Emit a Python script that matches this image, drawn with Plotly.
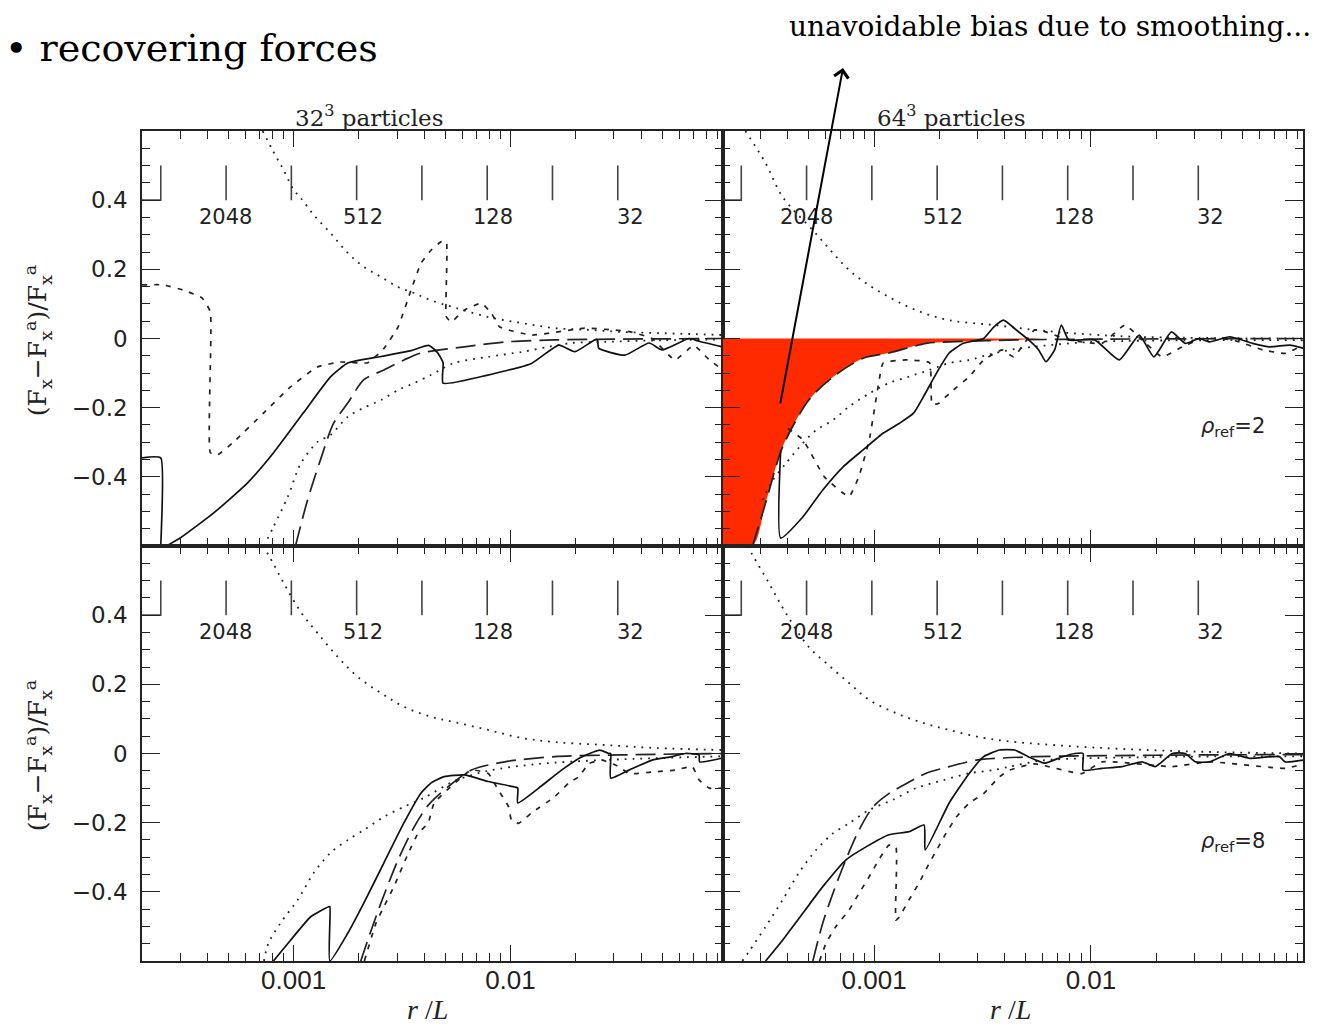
import math
import plotly.graph_objects as go
from plotly.subplots import make_subplots

# ---------------- axis / reference values ----------------
X_MIN, X_MAX = 2.0e-4, 0.095
Y_MIN, Y_MAX = -0.6, 0.6
x_major = [0.001, 0.01]
x_major_text = ["0.001", "0.01"]
x_minor = [m * 10.0 ** e for e in (-4, -3, -2) for m in range(2, 10)]
y_major = [-0.4, -0.2, 0.0, 0.2, 0.4]
y_major_text = ["\u22120.4", "\u22120.2", "0", "0.2", "0.4"]

neighbour_counts = [4096, 2048, 1024, 512, 256, 128, 64, 32]
labelled_counts = [2048, 512, 128, 32]
count_bar_low, count_bar_high, count_label_y = 0.4, 0.5, 0.35

# ---------------- top-left: 32^3, rho_ref = 2 ----------------
tl_solid_x = [2.0e-4, 2.44e-4, 2.44e-4, 2.61e-4, 3.0e-4, 4.27e-4, 6.12e-4, 8.07e-4, 1.11e-3, 1.48e-3, 1.78e-3,
              2.53e-3, 3.48e-3, 4.2e-3, 4.6e-3, 4.89e-3, 4.89e-3, 7.35e-3, 0.0125, 0.0167, 0.0198, 0.0245,
              0.0252, 0.0255, 0.0337, 0.0436, 0.05, 0.0667, 0.074, 0.095]
tl_solid_y = [-0.345, -0.345, -0.65, -0.6, -0.577, -0.505, -0.418, -0.331, -0.215, -0.111, -0.071,
              -0.052, -0.035, -0.02, -0.04, -0.07, -0.129, -0.11, -0.072, -0.019, -0.038, -0.004,
              -0.004, -0.028, -0.048, -0.013, -0.033, 0.0, -0.008, -0.024]
tl_long_x = [1.02e-3, 1.16e-3, 1.33e-3, 1.53e-3, 1.78e-3, 2.11e-3, 2.61e-3, 3.23e-3, 3.87e-3, 6.12e-3, 9.4e-3,
             0.016, 0.03, 0.095]
tl_long_y = [-0.6, -0.467, -0.351, -0.245, -0.186, -0.119, -0.091, -0.062, -0.042, -0.024, -0.01,
             -0.004, -0.002, 0.0]
tl_short_x = [2.0e-4, 2.5e-4, 3.1e-4, 3.79e-4, 4.13e-4, 4.13e-4, 4.45e-4, 5.27e-4, 7.26e-4, 9.68e-4, 1.29e-3,
              1.65e-3, 2.2e-3, 2.6e-3, 3.03e-3, 3.48e-3, 3.87e-3, 4.31e-3, 4.8e-3, 5.06e-3, 5.06e-3, 5.33e-3,
              6.12e-3, 7.35e-3, 8.17e-3, 8.9e-3, 0.0125, 0.022, 0.0294, 0.0352, 0.045, 0.0574, 0.07, 0.0826, 0.095]
tl_short_y = [0.155, 0.155, 0.14, 0.117, 0.077, -0.33, -0.337, -0.3, -0.216, -0.14, -0.082,
              -0.068, -0.07, -0.03, 0.033, 0.14, 0.218, 0.256, 0.28, 0.28, 0.063, 0.048,
              0.082, 0.102, 0.073, 0.034, 0.01, 0.03, 0.025, 0.02, 0.0, -0.062, -0.02, -0.062, -0.09]
tl_dotpos_x = [7.2e-4, 8.07e-4, 9.0e-4, 1.0e-3, 1.08e-3, 1.24e-3, 1.48e-3, 1.78e-3, 2.11e-3, 2.53e-3, 3.03e-3,
               3.6e-3, 4.31e-3, 5.5e-3, 7.9e-3, 0.01125, 0.016, 0.023, 0.0327, 0.0465, 0.0667, 0.095]
tl_dotpos_y = [0.6, 0.54, 0.487, 0.43, 0.406, 0.357, 0.305, 0.247, 0.207, 0.178, 0.149,
               0.131, 0.11, 0.09, 0.062, 0.045, 0.03, 0.025, 0.019, 0.016, 0.013, 0.01]
tl_dotneg_x = [7.3e-4, 8.07e-4, 9.4e-4, 1.08e-3, 1.29e-3, 1.48e-3, 1.78e-3, 2.11e-3, 2.53e-3, 3.03e-3, 3.6e-3,
               4.31e-3, 5.5e-3, 7.9e-3, 0.01125, 0.015, 0.0191, 0.0272, 0.05, 0.095]
tl_dotneg_y = [-0.6, -0.545, -0.458, -0.361, -0.299, -0.279, -0.226, -0.2, -0.178, -0.149, -0.129,
               -0.105, -0.071, -0.053, -0.039, -0.024, -0.013, -0.01, -0.005, -0.003]

# ---------------- top-right: 64^3, rho_ref = 2 ----------------
tr_long_x = [2.75e-4, 3.16e-4, 3.79e-4, 5.0e-4, 6.46e-4, 8.9e-4, 1.17e-3, 1.74e-3, 2.22e-3, 4.54e-3, 0.01, 0.095]
tr_long_y = [-0.6, -0.476, -0.313, -0.178, -0.111, -0.057, -0.042, -0.014, -0.01, -0.004, -0.002, 0.0]
bias_end_x = 5.9e-3
tr_solid_x = [3.71e-4, 3.71e-4, 4.69e-4, 5.8e-4, 7.2e-4, 8.9e-4, 1.1e-3, 1.31e-3, 1.52e-3, 1.69e-3, 1.94e-3,
              2.22e-3, 2.58e-3, 3.2e-3, 3.56e-3, 3.95e-3, 4.54e-3, 5.16e-3, 5.74e-3, 6.2e-3, 6.8e-3, 7.3e-3,
              7.9e-3, 0.0104, 0.0135, 0.0167, 0.0195, 0.0235, 0.0272, 0.0316, 0.0352, 0.0436, 0.0556,
              0.0667, 0.0826, 0.095]
tr_solid_y = [-0.322, -0.577, -0.516, -0.438, -0.371, -0.322, -0.274, -0.245, -0.216, -0.168, -0.1,
              -0.042, -0.014, 0.0, 0.033, 0.053, 0.024, -0.004, -0.033, -0.067, -0.033, 0.039,
              -0.004, -0.004, -0.062, 0.01, -0.053, 0.019, -0.014, 0.0, -0.01, 0.005, -0.014,
              -0.024, -0.019, -0.028]
tr_short_x = [4.0e-4, 4.7e-4, 5.9e-4, 7.66e-4, 8.5e-4, 9.5e-4, 1.05e-3, 1.1e-3, 1.4e-3, 1.8e-3, 1.85e-3, 1.98e-3,
              2.22e-3, 2.75e-3, 3.2e-3, 3.9e-3, 4.4e-3, 5.5e-3, 6.12e-3, 7.9e-3, 0.01125, 0.01435, 0.0172,
              0.0213, 0.0264, 0.0327, 0.045, 0.062, 0.079, 0.095]
tr_short_y = [-0.26, -0.293, -0.4, -0.457, -0.4, -0.293, -0.129, -0.071, -0.062, -0.07, -0.19, -0.188,
              -0.159, -0.11, -0.062, -0.033, -0.053, 0.025, 0.02, -0.004, -0.014, 0.039, -0.004,
              -0.053, -0.024, 0.0, -0.004, -0.033, -0.043, -0.019]
tr_dotpos_x = [2.55e-4, 3.16e-4, 3.79e-4, 5.22e-4, 6.46e-4, 7.66e-4, 9.18e-4, 1.17e-3, 1.56e-3, 2.22e-3, 3.56e-3,
               5.5e-3, 7.9e-3, 0.016, 0.095]
tr_dotpos_y = [0.6, 0.507, 0.409, 0.313, 0.247, 0.198, 0.16, 0.12, 0.082, 0.053, 0.039,
               0.025, 0.016, 0.005, 0.0]
tr_dotneg_x = [3.06e-4, 3.41e-4, 3.92e-4, 4.69e-4, 5.4e-4, 6.46e-4, 7.66e-4, 9.5e-4, 1.17e-3, 1.45e-3, 1.8e-3,
               2.22e-3, 2.75e-3, 3.56e-3, 4.54e-3, 0.01, 0.095]
tr_dotneg_y = [-0.467, -0.41, -0.361, -0.303, -0.265, -0.236, -0.197, -0.159, -0.129, -0.11, -0.091,
               -0.071, -0.062, -0.043, -0.03, -0.01, -0.005]

# ---------------- bottom-left: 32^3, rho_ref = 8 ----------------
bl_solid_x = [8.07e-4, 9.68e-4, 1.2e-3, 1.45e-3, 1.47e-3, 1.47e-3, 1.78e-3, 2.11e-3, 2.61e-3, 3.23e-3, 3.87e-3,
              4.31e-3, 4.95e-3, 6.12e-3, 7.9e-3, 0.0101, 0.0108, 0.0108, 0.0135, 0.0172, 0.0213, 0.0258,
              0.0284, 0.029, 0.029, 0.0352, 0.045, 0.0556, 0.064, 0.074, 0.0745, 0.095]
bl_solid_y = [-0.6, -0.54, -0.472, -0.443, -0.443, -0.6, -0.519, -0.432, -0.316, -0.2, -0.114,
              -0.085, -0.067, -0.062, -0.081, -0.095, -0.1, -0.143, -0.1, -0.048, -0.01, 0.01,
              0.0, 0.0, -0.071, -0.048, -0.019, -0.009, 0.0, -0.004, -0.024, -0.013]
bl_long_x = [2.04e-3, 2.2e-3, 2.53e-3, 3.03e-3, 3.6e-3, 4.17e-3, 5.16e-3, 6.6e-3, 9.4e-3, 0.016, 0.0327, 0.095]
bl_long_y = [-0.6, -0.539, -0.432, -0.308, -0.212, -0.15, -0.096, -0.048, -0.024, -0.009, -0.004, 0.0]
bl_short_x = [2.12e-3, 2.4e-3, 2.61e-3, 2.9e-3, 3.37e-3, 3.75e-3, 4.17e-3, 4.45e-3, 6.6e-3, 7.9e-3, 8.8e-3,
              9.8e-3, 0.0101, 0.0109, 0.0125, 0.016, 0.0186, 0.0207, 0.023, 0.0264, 0.0316, 0.0352,
              0.0465, 0.0574, 0.0689, 0.074, 0.0826, 0.095]
bl_short_y = [-0.6, -0.49, -0.443, -0.385, -0.29, -0.231, -0.202, -0.143, -0.048, -0.058, -0.106,
              -0.154, -0.192, -0.202, -0.172, -0.125, -0.085, -0.067, -0.029, -0.019, -0.038, -0.058,
              -0.053, -0.048, -0.038, -0.076, -0.1, -0.1]
bl_dotpos_x = [7.2e-4, 7.66e-4, 9.0e-4, 1.08e-3, 1.29e-3, 1.6e-3, 1.98e-3, 2.53e-3, 3.23e-3, 4.31e-3, 5.5e-3,
               7.9e-3, 0.01125, 0.016, 0.0265, 0.0465, 0.095]
bl_dotpos_y = [0.6, 0.574, 0.493, 0.409, 0.348, 0.279, 0.221, 0.175, 0.135, 0.106, 0.091,
               0.068, 0.045, 0.033, 0.025, 0.016, 0.01]
bl_dotneg_x = [7.3e-4, 7.66e-4, 8.71e-4, 1.045e-3, 1.24e-3, 1.48e-3, 1.78e-3, 2.11e-3, 2.61e-3, 3.23e-3, 4.0e-3,
               5.5e-3, 7.9e-3, 0.0135, 0.0265, 0.095]
bl_dotneg_y = [-0.6, -0.548, -0.49, -0.423, -0.345, -0.287, -0.25, -0.221, -0.183, -0.154, -0.128,
               -0.08, -0.05, -0.03, -0.019, -0.008]

# ---------------- bottom-right: 64^3, rho_ref = 8 ----------------
br_solid_x = [3.16e-4, 3.79e-4, 4.69e-4, 5.8e-4, 7.4e-4, 9.18e-4, 1.17e-3, 1.45e-3, 1.7e-3, 1.72e-3, 2.22e-3,
              2.75e-3, 3.2e-3, 3.79e-3, 4.45e-3, 5.16e-3, 6.12e-3, 7.34e-3, 8.43e-3, 9.2e-3, 9.2e-3, 0.01125,
              0.0139, 0.0172, 0.0198, 0.0237, 0.0272, 0.0303, 0.0352, 0.0436, 0.054, 0.074, 0.0783, 0.095]
br_solid_y = [-0.6, -0.539, -0.462, -0.385, -0.308, -0.27, -0.235, -0.226, -0.207, -0.279, -0.143,
              -0.057, -0.009, 0.01, 0.01, -0.01, -0.028, -0.01, 0.0, 0.0, -0.048, -0.043,
              -0.038, -0.024, -0.038, 0.0, 0.0, -0.024, -0.024, 0.0, -0.014, -0.009, -0.024, -0.019]
br_long_x = [5.22e-4, 5.8e-4, 6.46e-4, 7.4e-4, 8.53e-4, 9.9e-4, 1.17e-3, 1.41e-3, 1.74e-3, 2.22e-3, 2.96e-3,
             3.95e-3, 5.5e-3, 0.02, 0.095]
br_long_y = [-0.6, -0.49, -0.404, -0.308, -0.221, -0.154, -0.116, -0.087, -0.057, -0.038, -0.019,
             -0.013, -0.009, -0.005, -0.003]
br_short_x = [5.6e-4, 6.0e-4, 6.67e-4, 7.66e-4, 8.53e-4, 9.5e-4, 1.05e-3, 1.17e-3, 1.26e-3, 1.26e-3, 1.31e-3,
              1.45e-3, 1.61e-3, 1.78e-3, 1.98e-3, 2.15e-3, 2.4e-3, 2.75e-3, 3.2e-3, 3.79e-3, 4.22e-3, 5.5e-3,
              9.08e-3, 0.01125, 0.0237, 0.035, 0.079, 0.095]
br_short_y = [-0.6, -0.549, -0.5, -0.453, -0.404, -0.356, -0.308, -0.265, -0.27, -0.482, -0.472,
              -0.423, -0.375, -0.322, -0.27, -0.23, -0.183, -0.143, -0.116, -0.067, -0.048, -0.03,
              -0.058, -0.024, -0.038, -0.024, -0.043, -0.03]
br_dotpos_x = [2.6e-4, 2.75e-4, 3.27e-4, 3.92e-4, 5.0e-4, 6.0e-4, 7.66e-4, 9.5e-4, 1.26e-3, 1.69e-3, 2.22e-3,
               3.2e-3, 4.54e-3, 0.01125, 0.0327, 0.095]
br_dotpos_y = [0.6, 0.574, 0.493, 0.406, 0.308, 0.262, 0.204, 0.155, 0.117, 0.088, 0.068,
               0.045, 0.033, 0.016, 0.005, 0.0]
br_dotneg_x = [2.47e-4, 2.64e-4, 3.16e-4, 3.79e-4, 4.5e-4, 5.4e-4, 6.46e-4, 7.66e-4, 9.5e-4, 1.22e-3, 1.56e-3,
               2.09e-3, 2.75e-3, 3.56e-3, 4.22e-3, 6.0e-3, 0.02, 0.095]
br_dotneg_y = [-0.6, -0.574, -0.501, -0.423, -0.345, -0.279, -0.231, -0.202, -0.163, -0.134, -0.1,
               -0.077, -0.057, -0.048, -0.038, -0.02, -0.01, -0.008]

panels = {
    (1, 1): dict(solid=(tl_solid_x, tl_solid_y), long=(tl_long_x, tl_long_y), short=(tl_short_x, tl_short_y),
                 dotpos=(tl_dotpos_x, tl_dotpos_y), dotneg=(tl_dotneg_x, tl_dotneg_y)),
    (1, 2): dict(solid=(tr_solid_x, tr_solid_y), long=(tr_long_x, tr_long_y), short=(tr_short_x, tr_short_y),
                 dotpos=(tr_dotpos_x, tr_dotpos_y), dotneg=(tr_dotneg_x, tr_dotneg_y)),
    (2, 1): dict(solid=(bl_solid_x, bl_solid_y), long=(bl_long_x, bl_long_y), short=(bl_short_x, bl_short_y),
                 dotpos=(bl_dotpos_x, bl_dotpos_y), dotneg=(bl_dotneg_x, bl_dotneg_y)),
    (2, 2): dict(solid=(br_solid_x, br_solid_y), long=(br_long_x, br_long_y), short=(br_short_x, br_short_y),
                 dotpos=(br_dotpos_x, br_dotpos_y), dotneg=(br_dotneg_x, br_dotneg_y)),
}

line_styles = {
    "solid": dict(color="#111111", width=1.7, dash="solid", shape="spline", smoothing=0.5),
    "long": dict(color="#222222", width=1.7, dash="20px,8px", shape="spline", smoothing=0.8),
    "short": dict(color="#222222", width=1.7, dash="5px,7px", shape="spline", smoothing=0.4),
    "dotpos": dict(color="#222222", width=1.8, dash="1.8px,6px", shape="spline", smoothing=1.0),
    "dotneg": dict(color="#222222", width=1.8, dash="1.8px,6px", shape="spline", smoothing=0.8),
}

fig = make_subplots(rows=2, cols=2, horizontal_spacing=0, vertical_spacing=0)

# red bias region (top-right) drawn first
red_x = [X_MIN] + [x for x in tr_long_x if x < bias_end_x] + [bias_end_x]
red_y = [Y_MIN] + [y for x, y in zip(tr_long_x, tr_long_y) if x < bias_end_x] + [0.0]
fig.add_trace(go.Scatter(x=red_x, y=red_y, mode="lines", fill="tozeroy", fillcolor="#ff2a00",
                         line=dict(width=0, color="#ff2a00", shape="spline", smoothing=0.8),
                         hoverinfo="skip", showlegend=False),
              row=1, col=2)

# particle-count bars
bar_x = [X_MIN, 1.0 / neighbour_counts[0], 1.0 / neighbour_counts[0]]
bar_y = [count_bar_low, count_bar_low, count_bar_high]
for n in neighbour_counts[1:]:
    bar_x += [None, 1.0 / n, 1.0 / n]
    bar_y += [None, count_bar_low, count_bar_high]

for (r, c), curves in panels.items():
    fig.add_trace(go.Scatter(x=bar_x, y=bar_y, mode="lines", line=dict(color="#444444", width=1.6),
                             showlegend=False, hoverinfo="skip"), row=r, col=c)
    for key in ["dotpos", "dotneg", "short", "long", "solid"]:
        xs, ys = curves[key]
        fig.add_trace(go.Scatter(x=xs, y=ys, mode="lines", line=line_styles[key],
                                 showlegend=False), row=r, col=c)

tick_font = dict(family="DejaVu Sans", size=23, color="#222222")
for r in (1, 2):
    for c in (1, 2):
        fig.update_xaxes(type="log", range=[math.log10(X_MIN), math.log10(X_MAX)],
                         showline=True, mirror="allticks", linecolor="#222222", linewidth=1.6,
                         ticks="inside", ticklen=16, tickwidth=1.4, tickcolor="#222222",
                         tickvals=x_major, ticktext=x_major_text, showticklabels=(r == 2),
                         tickfont=dict(family="Liberation Sans", size=26, color="#222222"),
                         ticklabelstandoff=-5,
                         showgrid=False, zeroline=False,
                         minor=dict(tickvals=x_minor, ticks="inside", ticklen=8, tickwidth=1.2,
                                    tickcolor="#222222", showgrid=False),
                         row=r, col=c)
        fig.update_yaxes(range=[Y_MIN, Y_MAX], showline=True, mirror="allticks", linecolor="#222222",
                         linewidth=1.6, ticks="inside", ticklen=18, tickwidth=1.4, tickcolor="#222222",
                         tickvals=y_major, ticktext=y_major_text, showticklabels=(c == 1),
                         tickfont=tick_font, ticklabelstandoff=8,
                         showgrid=False, zeroline=False,
                         minor=dict(dtick=0.05, tick0=0, ticks="inside", ticklen=8, tickwidth=1.2,
                                    tickcolor="#222222", showgrid=False),
                         row=r, col=c)

annotations = []
axis_names = {(1, 1): ("x", "y"), (1, 2): ("x2", "y2"), (2, 1): ("x3", "y3"), (2, 2): ("x4", "y4")}
for (r, c), (xa, ya) in axis_names.items():
    for n in labelled_counts:
        annotations.append(dict(x=math.log10(1.0 / n), y=count_label_y, xref=xa, yref=ya, text=str(n),
                                showarrow=False, xanchor="right", yanchor="middle", xshift=28,
                                font=dict(family="DejaVu Sans", size=21, color="#222222")))

annotations.append(dict(x=math.log10(0.045), y=-0.256, xref="x2", yref="y2",
                        text="<i>\u03c1</i><sub>ref</sub>=2", showarrow=False,
                        font=dict(family="DejaVu Sans", size=21, color="#222222")))
annotations.append(dict(x=math.log10(0.045), y=-0.256, xref="x4", yref="y4",
                        text="<i>\u03c1</i><sub>ref</sub>=8", showarrow=False,
                        font=dict(family="DejaVu Sans", size=21, color="#222222")))

ytitle = "(F<sub>x</sub>\u2212F<sub>x</sub><sup>a</sup>)/F<sub>x</sub><sup>a</sup>"
for yc in (0.748, 0.248):
    annotations.append(dict(x=-0.0896, y=yc, xref="paper", yref="paper", text=ytitle, textangle=-90,
                            showarrow=False, xanchor="center", yanchor="middle",
                            font=dict(family="DejaVu Serif", size=25, color="#222222")))
for xc in (0.246, 0.748):
    annotations.append(dict(x=xc, y=-0.059, xref="paper", yref="paper", text="<i>r</i> /<i>L</i>",
                            showarrow=False, xanchor="center", yanchor="middle",
                            font=dict(family="Liberation Serif", size=28, color="#222222")))
for xc, txt in ((0.196, "32<sup>3</sup> particles"), (0.697, "64<sup>3</sup> particles")):
    annotations.append(dict(x=xc, y=1.018, xref="paper", yref="paper", text=txt, showarrow=False,
                            xanchor="center", yanchor="middle",
                            font=dict(family="DejaVu Serif", size=23, color="#222222")))

annotations.append(dict(x=-0.1195, y=1.1, xref="paper", yref="paper", text="\u2022 recovering forces",
                        showarrow=False, xanchor="left", yanchor="middle",
                        font=dict(family="DejaVu Serif", size=38, color="#000000")))
annotations.append(dict(x=1.0086, y=1.126, xref="paper", yref="paper",
                        text="unavoidable bias due to smoothing...", showarrow=False,
                        xanchor="right", yanchor="middle",
                        font=dict(family="DejaVu Serif", size=28, color="#000000")))
annotations.append(dict(x=0.6038, y=1.076, xref="paper", yref="paper", text="", showarrow=True,
                        axref="pixel", ayref="pixel", ax=-63, ay=337, arrowhead=4, arrowsize=1.4,
                        arrowwidth=2, arrowcolor="#000000", standoff=0, startstandoff=0))

# the page adds an 8 px body margin, so the figure is 8 px smaller and margins shifted
fig.update_layout(width=1309, height=1019, margin=dict(l=134, r=14, t=123, b=66),
                  paper_bgcolor="white", plot_bgcolor="white", showlegend=False,
                  annotations=annotations)

fig.write_html("out.html")
